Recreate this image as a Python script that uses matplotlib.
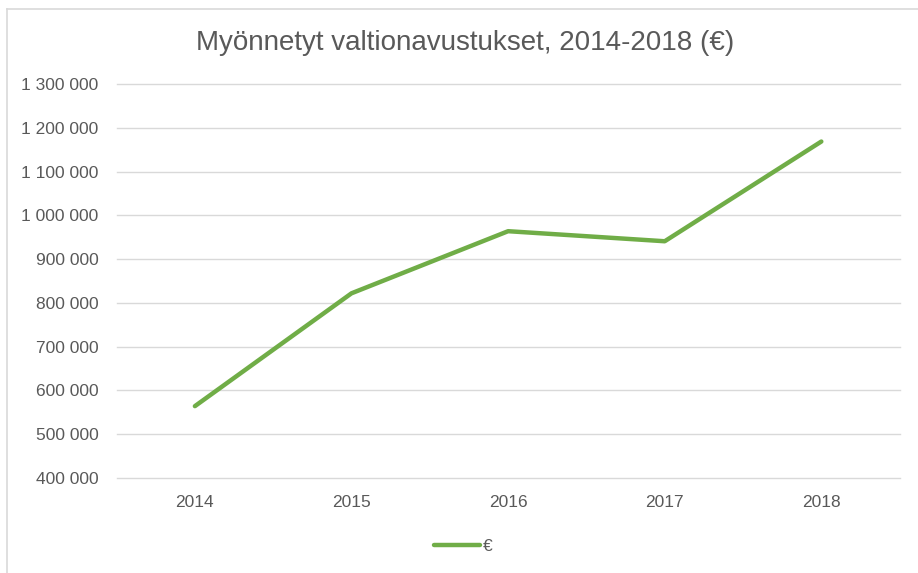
import matplotlib.pyplot as plt
from matplotlib.ticker import FuncFormatter

years = ['2014', '2015', '2016', '2017', '2018']
avustukset = [564000, 822000, 964000, 941000, 1169000]

plt.rcParams['font.family'] = ['Liberation Sans', 'DejaVu Sans']
txt = '#595959'

fig = plt.figure(figsize=(9.18, 5.73), dpi=100)
ax = fig.add_axes([0.127, 0.166, 0.853, 0.687])

x = range(len(years))
ax.plot(x, avustukset, color='#70AD47', linewidth=3.2, solid_capstyle='round', label='€')

ax.set_xlim(-0.5, len(years) - 0.5)
ax.set_ylim(400000, 1300000)
ax.set_yticks(range(400000, 1300001, 100000))
ax.yaxis.set_major_formatter(FuncFormatter(lambda v, p: f'{int(v):,}'.replace(',', ' ')))
ax.set_xticks(list(x))
ax.set_xticklabels(years)
ax.tick_params(axis='both', length=0, colors=txt, labelsize=12.5)
ax.tick_params(axis='x', pad=12)
ax.tick_params(axis='y', pad=13)
ax.grid(axis='y', color='#D9D9D9', linewidth=1)
for gl in ax.get_ygridlines():
    gl.set_clip_on(False)
ax.set_axisbelow(True)
for s in ax.spines.values():
    s.set_visible(False)

fig.text(0.507, 0.925, 'Myönnetyt valtionavustukset, 2014-2018 (€)', ha='center', va='center',
         fontsize=20, color=txt)
fig.legend(loc='center', bbox_to_anchor=(0.505, 0.047), frameon=False, fontsize=12.5,
           labelcolor=txt, handlelength=2.6, handletextpad=0.2)

# chart border (top and left visible in the cropped screenshot)
fig.add_artist(plt.Line2D([0.008, 1.0], [0.985, 0.985], color='#D9D9D9', linewidth=1.2, transform=fig.transFigure))
fig.add_artist(plt.Line2D([0.008, 0.008], [0.0, 0.985], color='#D9D9D9', linewidth=1.2, transform=fig.transFigure))

fig.savefig('out.png', dpi=100)
